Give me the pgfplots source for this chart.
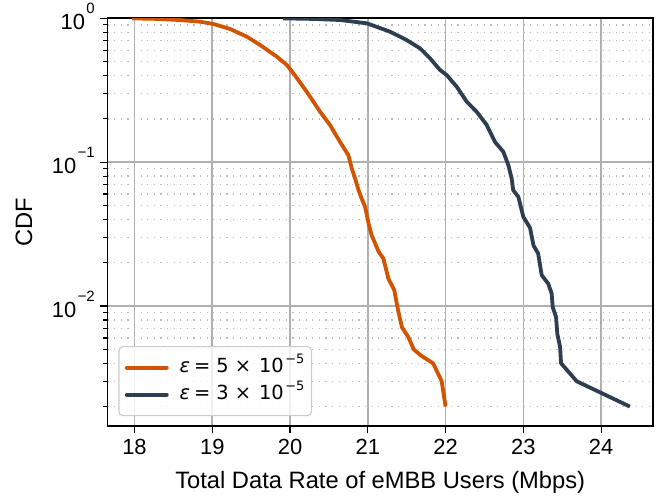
\documentclass[border=0pt]{standalone}
\usepackage{fontspec}
\setmainfont{Liberation Sans}
\newfontfamily\dejavu{DejaVu Sans}
\usepackage{pgfplots}
\pgfplotsset{compat=1.18}
\definecolor{corange}{HTML}{D35400}
\definecolor{cdark}{HTML}{2C3E50}
\definecolor{gridc}{HTML}{B0B0B0}
\definecolor{legc}{HTML}{CCCCCC}
\newcommand{\tsup}[1]{\hspace{1.5bp}\raisebox{16.5bp}{\fontsize{15}{16}\selectfont #1}}
\newcommand{\lsup}[1]{\hspace{1.5bp}\raisebox{9.4bp}{\fontsize{13}{14}\selectfont #1}}
\newcommand{\leg}[1]{{\itshape ε}\hspace{4bp}=\hspace{6bp}#1\hspace{6bp}×\hspace{8bp}10\lsup{−5}\hspace{11bp}}
\begin{document}
\begin{tikzpicture}
\useasboundingbox (0,0) rectangle (665bp,499bp);
\begin{axis}[
  at={(107.5bp,73bp)}, anchor=south west,
  width=545.5bp, height=407.7bp, scale only axis,
  ymode=log,
  xmin=17.653, xmax=24.667, ymin=0.001466, ymax=1,
  xtick={18,19,20,21,22,23,24},
  xticklabels={18,19,20,21,22,23,24},
  ytick={0.01,0.1,1},
  yticklabels={10\tsup{−2},10\tsup{−1},10\tsup{0}},
  minor ytick={0.002,0.003,0.004,0.005,0.006,0.007,0.008,0.009,0.02,0.03,0.04,0.05,0.06,0.07,0.08,0.09,0.2,0.3,0.4,0.5,0.6,0.7,0.8,0.9},
  minor x tick num=0,
  tick align=outside, xtick pos=bottom, ytick pos=left,
  major tick length=7.5bp, minor tick length=4.3bp,
  every tick/.style={black, line width=1.2bp},
  axis line style={line width=1.6bp},
  xmajorgrids, ymajorgrids, yminorgrids,
  major grid style={gridc, line width=1.6bp},
  minor grid style={gridc!85, line width=1.3bp, dash pattern=on 1.3bp off 5.3bp},
  xticklabel style={font=\fontsize{22}{26}\selectfont, anchor=base, inner sep=0pt, yshift=-21.5bp},
  yticklabel style={font=\fontsize{22}{26}\selectfont, anchor=base east, inner sep=0pt, xshift=-5bp, yshift=-11.7bp},
  xlabel={Total Data Rate of eMBB Users (Mbps)},
  ylabel={CDF},
  xlabel style={font=\fontsize{23.8}{27}\selectfont, at={(axis description cs:0.5,-0.1545)}, anchor=base, inner sep=0pt},
  ylabel style={font=\fontsize{23.8}{27}\selectfont, at={(axis description cs:-0.1384,0.5)}, anchor=base, inner sep=0pt},
  legend style={at={(axis description cs:0.0198,0.024)}, anchor=south west,
    draw=legc, line width=1.2bp, rounded corners=4bp, fill=white, fill opacity=0.8, text opacity=1,
    font=\dejavu\fontsize{19.5}{22}\selectfont, inner xsep=6bp, inner ysep=11bp, row sep=7bp,
    column sep=10bp,
    nodes={inner sep=1bp, text height=14bp, text depth=4bp}},
  legend cell align=left,
  legend image code/.code={\draw[#1, line cap=round] (2bp,0bp) -- (42bp,0bp);},
]
\addplot[corange, line width=3.8bp, line join=round] coordinates {
(17.97,0.999) (18.3,0.99) (18.59,0.972) (18.845,0.947) (19.015,0.913) (19.23,0.843)
(19.445,0.745) (19.616,0.652) (19.83,0.541) (19.96,0.473) (20.06,0.403) (20.216,0.308)
(20.387,0.224) (20.515,0.181) (20.644,0.138) (20.75,0.112) (20.794,0.0904) (20.837,0.077)
(20.88,0.064) (20.92,0.056) (20.965,0.049) (21.01,0.0374) (21.05,0.031) (21.14,0.0238)
(21.20,0.0214) (21.265,0.0155) (21.34,0.0129) (21.39,0.0093) (21.44,0.0071) (21.52,0.0061)
(21.59,0.0050) (21.69,0.0045) (21.84,0.0040) (21.95,0.0030) (22.00,0.0020)
};
\addlegendentry{\leg{5}}
\addplot[cdark, line width=3.8bp, line join=round] coordinates {
(19.91,0.999) (20.3,0.99) (20.643,0.973) (20.987,0.923) (21.287,0.807) (21.50,0.706)
(21.672,0.618) (21.80,0.527) (21.929,0.437) (22.015,0.403) (22.144,0.334) (22.272,0.263)
(22.40,0.224) (22.53,0.181) (22.636,0.138) (22.743,0.118) (22.807,0.0953) (22.85,0.077)
(22.87,0.0638) (22.936,0.0574) (23.00,0.0416) (23.086,0.0350) (23.13,0.0264) (23.19,0.0232)
(23.236,0.0164) (23.32,0.0143) (23.364,0.0122) (23.378,0.0098) (23.42,0.0084) (23.437,0.0064)
(23.472,0.0052) (23.485,0.0040) (23.686,0.0030) (24.37,0.0020)
};
\addlegendentry{\leg{3}}
\end{axis}
\end{tikzpicture}
\end{document}
